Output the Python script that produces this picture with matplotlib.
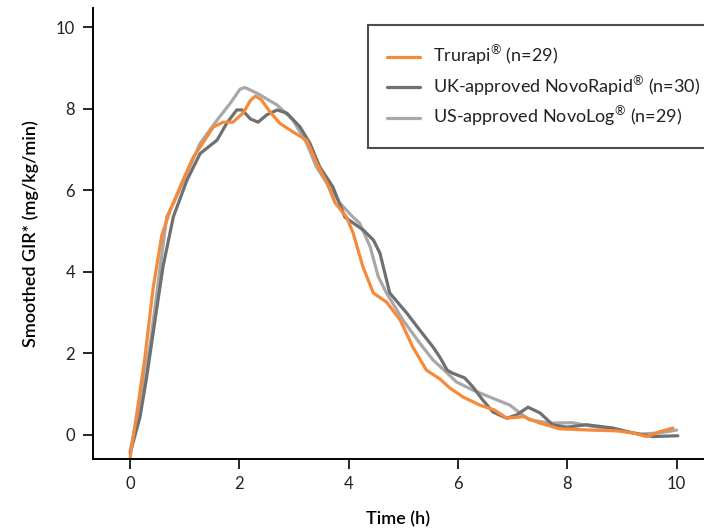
import matplotlib
matplotlib.use('Agg')
import matplotlib.pyplot as plt

# Smoothed GIR profiles
trurapi_t = [0.0, 0.13, 0.27, 0.42, 0.58, 0.73, 0.95, 1.15, 1.35, 1.52, 1.7, 1.88, 2.07, 2.2,
             2.29, 2.4, 2.56, 2.74, 2.98, 3.23, 3.41, 3.6, 3.75, 3.96, 4.08, 4.26, 4.45, 4.69,
             4.94, 5.17, 5.42, 5.67, 5.85, 6.09, 6.4, 6.67, 6.89, 7.19, 7.5, 7.86, 8.41, 8.9,
             9.2, 9.45, 9.69, 9.93]
trurapi_v = [-0.55, 0.6, 1.9, 3.6, 4.9, 5.5, 6.2, 6.8, 7.2, 7.55, 7.67, 7.67, 7.9, 8.2,
             8.31, 8.22, 7.92, 7.64, 7.43, 7.23, 6.67, 6.18, 5.69, 5.34, 4.95, 4.12, 3.48, 3.26,
             2.82, 2.16, 1.59, 1.37, 1.15, 0.93, 0.73, 0.61, 0.41, 0.45, 0.29, 0.15, 0.12, 0.1,
             0.05, -0.04, 0.08, 0.17]

uk_t = [0.0, 0.18, 0.3, 0.42, 0.6, 0.79, 1.04, 1.28, 1.59, 1.77, 1.95, 2.05, 2.2, 2.34, 2.5,
        2.69, 2.87, 3.11, 3.29, 3.47, 3.71, 3.93, 4.27, 4.45, 4.57, 4.75, 5.06, 5.3, 5.54,
        5.67, 5.8, 5.89, 6.12, 6.27, 6.45, 6.64, 6.89, 7.07, 7.28, 7.5, 7.73, 7.99, 8.35,
        8.83, 9.2, 9.56, 10.02]
uk_v = [-0.45, 0.44, 1.4, 2.5, 4.12, 5.35, 6.25, 6.9, 7.23, 7.65, 7.97, 7.97, 7.75, 7.67, 7.85,
        7.97, 7.89, 7.55, 7.15, 6.57, 6.08, 5.34, 5.02, 4.78, 4.46, 3.48, 2.99, 2.57, 2.16,
        1.9, 1.59, 1.52, 1.4, 1.18, 0.86, 0.56, 0.41, 0.49, 0.68, 0.54, 0.25, 0.19, 0.25,
        0.17, 0.05, -0.04, -0.02]

us_t = [0.0, 0.15, 0.37, 0.55, 0.67, 0.82, 1.04, 1.28, 1.59, 1.83, 2.01, 2.1, 2.32, 2.69, 2.98,
        3.23, 3.41, 3.6, 3.84, 4.08, 4.2, 4.39, 4.54, 4.69, 4.99, 5.3, 5.54, 5.8, 5.97, 6.27,
        6.58, 6.95, 7.13, 7.31, 7.68, 8.1, 8.41, 8.9, 9.32, 9.69, 10.0]
us_v = [-0.4, 0.6, 2.25, 4.12, 5.35, 5.76, 6.42, 7.15, 7.72, 8.13, 8.48, 8.52, 8.38, 8.09, 7.72,
        7.15, 6.57, 6.17, 5.68, 5.34, 5.19, 4.62, 3.88, 3.48, 2.82, 2.25, 1.84, 1.52, 1.3, 1.1,
        0.93, 0.73, 0.54, 0.37, 0.29, 0.3, 0.22, 0.12, 0.02, 0.05, 0.12]

labels = [r'Trurapi$^{\mathregular{®}}$ (n=29)',
          r'UK-approved NovoRapid$^{\mathregular{®}}$ (n=30)  ',
          r'US-approved NovoLog$^{\mathregular{®}}$ (n=29)']
colors = ['#f58a3a', '#707070', '#a8a8a8']

plt.rcParams['font.family'] = ['Lato', 'DejaVu Sans']
plt.rcParams['mathtext.fontset'] = 'custom'
plt.rcParams['mathtext.rm'] = 'Lato'

fig = plt.figure(figsize=(7.04, 5.28), dpi=100)
ax = fig.add_axes([93 / 704, 69 / 528, 611 / 704, 451 / 528])

lw = 2.3
l3, = ax.plot(us_t, us_v, color=colors[2], lw=lw, solid_joinstyle='round', solid_capstyle='round')
l2, = ax.plot(uk_t, uk_v, color=colors[1], lw=lw, solid_joinstyle='round', solid_capstyle='round')
l1, = ax.plot(trurapi_t, trurapi_v, color=colors[0], lw=lw, solid_joinstyle='round', solid_capstyle='round')

ax.set_xlim(-0.68, 10.5)
ax.set_ylim(-0.59, 10.47)
ax.set_xticks([0, 2, 4, 6, 8, 10])
ax.set_yticks([0, 2, 4, 6, 8, 10])

for side in ['top', 'right']:
    ax.spines[side].set_visible(False)
for side in ['left', 'bottom']:
    ax.spines[side].set_linewidth(1.4)
    ax.spines[side].set_color('black')
ax.tick_params(axis='both', direction='out', length=7, width=1.2, labelsize=12,
               colors='black', labelcolor='#222222')
ax.tick_params(axis='x', pad=5)
ax.tick_params(axis='y', pad=6)

ax.set_xlabel('Time (h)', fontsize=13, fontweight='semibold', labelpad=14)
ax.set_ylabel('Smoothed GIR* (mg/kg/min)', fontsize=13, fontweight='semibold', labelpad=12)

leg = ax.legend([l1, l2, l3], labels, loc='upper left',
                bbox_to_anchor=(368 / 704, 503 / 528), bbox_transform=fig.transFigure,
                borderaxespad=0, handlelength=1.85, handletextpad=0.72,
                borderpad=1.05, labelspacing=0.35, fancybox=False, framealpha=1,
                prop={'size': 13})
for t in leg.get_texts():
    t.set_color('#222222')
leg.get_frame().set_edgecolor('#4d4d4d')
leg.get_frame().set_linewidth(1.5)

fig.savefig('out.png', dpi=100)
